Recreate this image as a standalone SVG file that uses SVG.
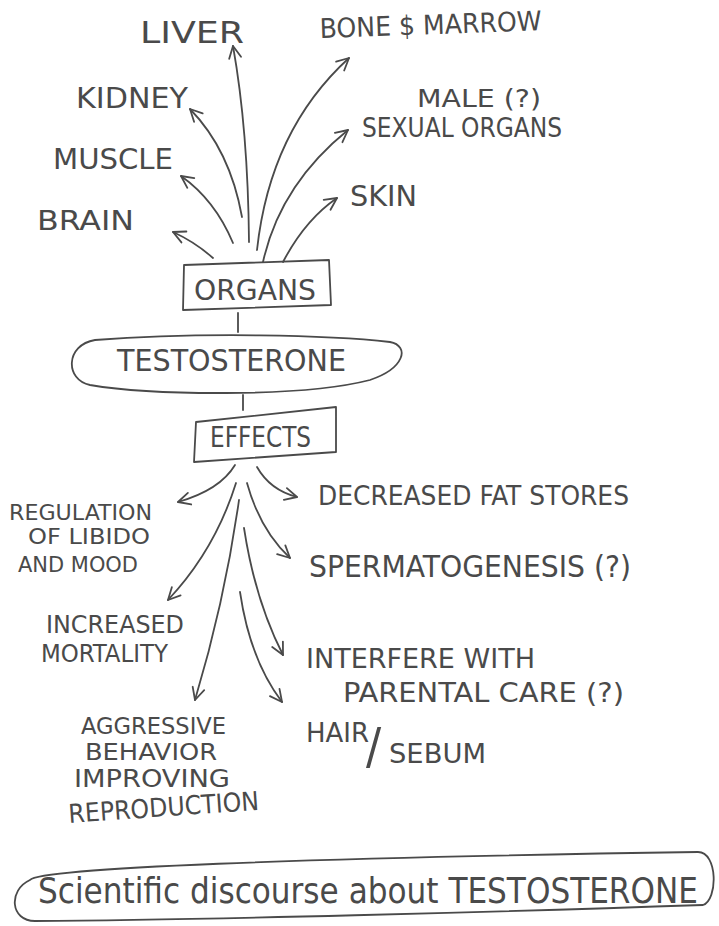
<svg xmlns="http://www.w3.org/2000/svg" width="719" height="926" viewBox="0 0 719 926">
<defs>
<style>
.t{font-family:"Liberation Sans Narrow","DejaVu Sans Condensed","Liberation Sans",sans-serif;fill:#4a4a4a;}
.s{fill:none;stroke:#4a4a4a;stroke-width:1.8;stroke-linecap:round;stroke-linejoin:round;}
.c{fill:none;stroke:#4a4a4a;stroke-width:1.8;stroke-linecap:round;marker-end:url(#ah);}
</style>
<marker id="ah" markerUnits="userSpaceOnUse" markerWidth="16" markerHeight="16" viewBox="0 0 16 16" refX="14" refY="8" orient="auto">
<path d="M2,2 L14,8 L2,14" fill="none" stroke="#4a4a4a" stroke-width="1.8" stroke-linecap="round" stroke-linejoin="round"/>
</marker>
</defs>
<rect width="719" height="926" fill="#ffffff"/>

<g id="liver"><text class="t" x="140" y="43" font-size="30" textLength="104" lengthAdjust="spacingAndGlyphs">LIVER</text></g>
<g id="bone"><text class="t" x="320" y="38" font-size="27" textLength="222" lengthAdjust="spacingAndGlyphs" transform="rotate(-2 320 38)">BONE $ MARROW</text></g>
<g id="kidney"><text class="t" x="76" y="108" font-size="29" textLength="112" lengthAdjust="spacingAndGlyphs">KIDNEY</text></g>
<g id="sexual"><text class="t" x="417" y="107" font-size="25" textLength="124" lengthAdjust="spacingAndGlyphs">MALE (?)</text>
<text class="t" x="362" y="137" font-size="27" textLength="200" lengthAdjust="spacingAndGlyphs">SEXUAL ORGANS</text></g>
<g id="muscle"><text class="t" x="53" y="169" font-size="29" textLength="120" lengthAdjust="spacingAndGlyphs">MUSCLE</text></g>
<g id="skin"><text class="t" x="350" y="206" font-size="29" textLength="67" lengthAdjust="spacingAndGlyphs">SKIN</text></g>
<g id="brain"><text class="t" x="37" y="230" font-size="27" textLength="97" lengthAdjust="spacingAndGlyphs">BRAIN</text></g>

<g id="organs"><path class="s" d="M184 265 L329 260 L331 305 L183 310 Z"/>
<text class="t" x="194" y="300" font-size="28" textLength="122" lengthAdjust="spacingAndGlyphs">ORGANS</text></g>

<g id="testosterone"><path class="s" d="M95 340 C200 332 330 335 390 342 C410 346 405 368 370 380 C300 398 150 395 90 385 C65 380 65 345 95 340 Z"/>
<text class="t" x="117" y="371" font-size="31" textLength="229" lengthAdjust="spacingAndGlyphs">TESTOSTERONE</text></g>

<g id="effects"><path class="s" d="M196 422 L336 407 L336 452 L194 462 Z"/>
<text class="t" x="210" y="447" font-size="28" textLength="101" lengthAdjust="spacingAndGlyphs">EFFECTS</text></g>

<g id="decreased"><text class="t" x="318" y="505" font-size="27" textLength="311" lengthAdjust="spacingAndGlyphs">DECREASED FAT STORES</text></g>
<g id="spermatogenesis"><text class="t" x="309" y="577" font-size="31" textLength="322" lengthAdjust="spacingAndGlyphs">SPERMATOGENESIS (?)</text></g>
<g id="regulation"><text class="t" x="9" y="520" font-size="22" textLength="143" lengthAdjust="spacingAndGlyphs">REGULATION</text>
<text class="t" x="28" y="544" font-size="22" textLength="122" lengthAdjust="spacingAndGlyphs">OF LIBIDO</text>
<text class="t" x="18" y="572" font-size="22" textLength="120" lengthAdjust="spacingAndGlyphs">AND MOOD</text></g>
<g id="mortality"><text class="t" x="46" y="633" font-size="25" textLength="138" lengthAdjust="spacingAndGlyphs">INCREASED</text>
<text class="t" x="41" y="662" font-size="25" textLength="127" lengthAdjust="spacingAndGlyphs">MORTALITY</text></g>
<g id="interfere"><text class="t" x="306" y="668" font-size="27" textLength="229" lengthAdjust="spacingAndGlyphs">INTERFERE WITH</text>
<text class="t" x="343" y="702" font-size="27" textLength="281" lengthAdjust="spacingAndGlyphs">PARENTAL CARE (?)</text></g>
<g id="hair"><text class="t" x="306" y="742" font-size="27" textLength="63" lengthAdjust="spacingAndGlyphs">HAIR</text>
<text class="t" x="366" y="763" font-size="50">/</text>
<text class="t" x="389" y="763" font-size="27" textLength="97" lengthAdjust="spacingAndGlyphs">SEBUM</text></g>
<g id="aggressive"><text class="t" x="81" y="734" font-size="23" textLength="145" lengthAdjust="spacingAndGlyphs">AGGRESSIVE</text>
<text class="t" x="85" y="760" font-size="23" textLength="132" lengthAdjust="spacingAndGlyphs">BEHAVIOR</text>
<text class="t" x="74" y="787" font-size="24" textLength="156" lengthAdjust="spacingAndGlyphs">IMPROVING</text>
<text class="t" x="69" y="823" font-size="26" textLength="191" lengthAdjust="spacingAndGlyphs" transform="rotate(-4 69 823)">REPRODUCTION</text></g>

<g id="discourse"><path class="s" d="M30 880 C40 868 300 858 698 852 C718 852 718 900 703 905 C500 912 200 920 35 921 C10 921 8 890 30 880 Z"/>
<text class="t" x="38" y="903" font-size="35" textLength="660" lengthAdjust="spacingAndGlyphs">Scientific discourse about TESTOSTERONE</text></g>

<g id="connectors">
<path class="s" d="M238 313 L238 332"/>
<path class="s" d="M243 395 L243 410"/>
<path class="c" d="M213 258 Q195 242 173 232"/>
<path class="c" d="M233 243 Q215 200 181 176"/>
<path class="c" d="M242 217 Q230 150 190 109"/>
<path class="c" d="M249 242 Q248 130 233 46"/>
<path class="c" d="M257 250 Q270 130 349 58"/>
<path class="c" d="M263 262 Q280 185 348 130"/>
<path class="c" d="M283 262 Q305 220 337 198"/>
<path class="c" d="M235 465 Q220 490 178 502"/>
<path class="c" d="M257 467 Q270 490 297 497"/>
<path class="c" d="M247 483 Q260 530 290 558"/>
<path class="c" d="M236 483 Q215 550 168 600"/>
<path class="c" d="M239 500 Q225 600 195 700"/>
<path class="c" d="M244 528 Q255 600 283 655"/>
<path class="c" d="M240 592 Q250 660 282 702"/>
</g>
</svg>
